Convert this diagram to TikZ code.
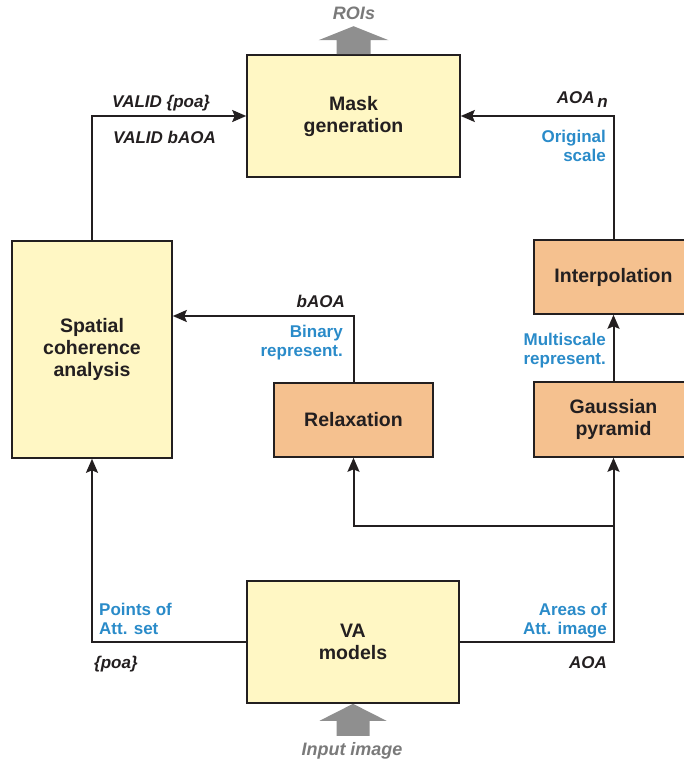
\documentclass[tikz,border=0pt]{standalone}
\usepackage{fontspec}
\setmainfont{Liberation Sans}
\usetikzlibrary{arrows.meta,calc}
\definecolor{boxyellow}{HTML}{FFF7C4}
\definecolor{boxorange}{HTML}{F5C18F}
\definecolor{labelblue}{HTML}{2A8BC9}
\definecolor{arrowgray}{HTML}{8F8F8F}
\definecolor{textgray}{HTML}{7A7A7A}
\definecolor{ink}{HTML}{231F20}

\begin{document}
\begin{tikzpicture}[x=1pt,y=-1pt,
  box/.style={draw=ink, line width=1.6pt, inner sep=0pt, align=center,
    font=\fontsize{19.5}{22}\selectfont\bfseries, text=ink},
  yellowbox/.style={box, fill=boxyellow},
  orangebox/.style={box, fill=boxorange},
  link/.style={draw=ink, line width=2pt,
    -{Stealth[length=14pt,width=12pt,inset=2.5pt]}},
  tag/.style={inner sep=0pt, font=\fontsize{17}{19}\selectfont\bfseries\itshape, text=ink},
  note/.style={inner sep=0pt, font=\fontsize{17}{19}\selectfont\bfseries, text=labelblue},
  graytag/.style={tag, text=textgray, font=\fontsize{18}{20}\selectfont\bfseries\itshape},
  bigarrow/.style={fill=arrowgray}]
\useasboundingbox (0,0) rectangle (684,763);

% processing blocks
\node[yellowbox, minimum width=213pt, minimum height=122pt] (mask) at (353.5,116) {Mask\\generation};
\node[yellowbox, minimum width=160pt, minimum height=217pt] (spatial) at (92,349.5) {Spatial\\coherence\\analysis};
\node[orangebox, minimum width=159pt, minimum height=74pt] (relax) at (353.5,420) {Relaxation};
\node[orangebox, minimum width=159pt, minimum height=74pt] (interp) at (613.5,277) {Interpolation};
\node[orangebox, minimum width=159pt, minimum height=75pt] (gauss) at (613.5,419.5) {Gaussian\\pyramid};
\node[yellowbox, minimum width=212pt, minimum height=122pt] (va) at (353,642) {VA\\models};

% connectors
\coordinate (bturn) at (353.5,316);
\coordinate (split) at (613.5,526);
\draw[link] (spatial.north) |- (mask.west);
\draw[link] (interp.north) |- (mask.east);
\draw[link] (relax.north) -- (bturn) -- (bturn -| spatial.east);
\draw[link] (gauss.north) -- (interp.south);
\draw[link] (va.east) -| (gauss.south);
\draw[link] (split) -| (relax.south);
\draw[link] (va.west) -| (spatial.south);

% wide grey arrows: output and input
\fill[bigarrow] ($(mask.north)+(-17pt,0pt)$) -- ++(0pt,14pt) -- ++(-18pt,0pt)
  -- ($(mask.north)+(0pt,28pt)$) -- ($(mask.north)+(35pt,14pt)$) -- ++(-18pt,0pt)
  -- ($(mask.north)+(17pt,0pt)$) -- cycle;
\fill[bigarrow] (va.south) -- ($(va.south)+(33.5pt,-17pt)$) -- ++(-17pt,0pt)
  -- ++(0pt,-15pt) -- ++(-33pt,0pt) -- ++(0pt,15pt) -- ++(-17pt,0pt) -- cycle;
\node[graytag, anchor=base] (roilabel) at (354,19) {ROIs};
\node[graytag, anchor=base] (inlabel) at (352,755) {Input image};

% data labels
\node[tag, anchor=base west] (vpoa) at (112,107) {VALID \{poa\}};
\node[tag, anchor=base west] (vbaoa) at (113,143) {VALID bAOA};
\node[tag, anchor=base east] (aoan) at (608,103) {AOA\,\raisebox{-4pt}{n}};
\node[tag, anchor=base east] (baoa) at (345,307) {bAOA};
\node[tag, anchor=base west] (poa) at (94,668) {\{poa\}};
\node[tag, anchor=base east] (aoa) at (607,668) {AOA};

% blue annotations
\node[note, anchor=north east, align=right] (orig) at (606,130) {Original\\scale};
\node[note, anchor=north east, align=right] (binrep) at (343,325) {Binary\\represent.};
\node[note, anchor=north east, align=right] (multi) at (606,333) {Multiscale\\represent.};
\node[note, anchor=north west, align=left] (points) at (99,603) {Points of\\Att. set};
\node[note, anchor=north east, align=right] (areas) at (607,603) {Areas of\\Att. image};
\end{tikzpicture}
\end{document}
